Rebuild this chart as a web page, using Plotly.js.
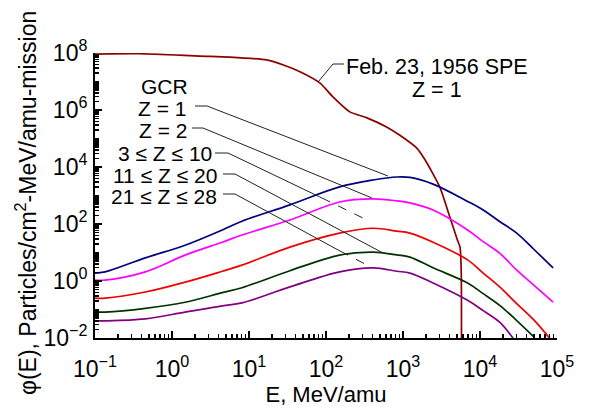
<!DOCTYPE html>
<html>
<head>
<meta charset="utf-8">
<script src="https://cdn.plot.ly/plotly-3.0.1.min.js"></script>
<style>html,body{margin:0;padding:0;background:#fff;}#chart{width:605px;height:407px;}</style>
</head>
<body>
<div id="chart"></div>
<script>
// ---- Data ----
// Feb. 23, 1956 SPE, Z = 1
const speE = [0.1, 0.38, 2.3, 5.6, 17, 28, 46, 83, 123, 204, 340, 620, 910, 1500, 1930, 3000, 4050, 5100, 5500, 5700, 5750];
const speF = [9.2e7, 9.4e7, 7.8e7, 7.2e7, 5.7e7, 3.8e7, 2.2e7, 8.9e6, 2.9e6, 8.6e5, 5.3e5, 2.5e5, 1.3e5, 4.7e4, 1.8e4, 2.0e3, 178, 27, 15.5, 2.4, 0.005];

// GCR energy grid (MeV/amu)
const gcrE = [0.1, 0.135, 0.45, 1.48, 4.5, 8.1, 34, 150, 410, 830, 1230, 2460, 6900, 11000, 18000, 30000, 50000, 89000];
const gcrZ1 = [1.9, 2.1, 6.5, 18, 62, 125, 470, 2000, 3500, 4450, 4300, 2500, 620, 310, 122, 48, 13, 2.9];
const gcrZ2 = [1.08, 1.08, 2.1, 8.1, 23, 41, 138, 590, 760, 650, 550, 310, 62, 24, 9.5, 2.4, 0.72, 0.18];
const gcrZ3to10 = [0.25, 0.25, 0.41, 0.91, 2.2, 3.6, 15.5, 48, 71, 56, 48, 23, 5.5, 1.9, 0.62, 0.16, 0.043, 0.007];
const gcrZ11to20 = [0.081, 0.081, 0.11, 0.18, 0.39, 0.58, 2.3, 8.1, 10.3, 8.2, 6.9, 2.9, 0.85, 0.36, 0.14, 0.041, 0.011, null];
const gcrZ21to28 = [0.040, 0.040, 0.047, 0.081, 0.135, 0.17, 0.62, 2.1, 2.9, 2.2, 1.9, 0.85, 0.21, 0.091, 0.036, 0.0065, null, null];

// Tick labels
const xTickVals = [0.1, 1, 10, 100, 1000, 10000, 100000];
const xTickText = ['10<sup>\u22121</sup>', '10<sup>0</sup>', '10<sup>1</sup>', '10<sup>2</sup>', '10<sup>3</sup>', '10<sup>4</sup>', '10<sup>5</sup>'];
const yTickVals = [1e-2, 1e0, 1e2, 1e4, 1e6, 1e8];
const yTickText = ['10<sup>\u22122</sup>', '10<sup>0</sup>', '10<sup>2</sup>', '10<sup>4</sup>', '10<sup>6</sup>', '10<sup>8</sup>'];

// Labels
const gcrLabels = ['GCR', 'Z = 1', 'Z = 2', '3 \u2264 Z \u2264 10', '11 \u2264 Z \u2264 20', '21 \u2264 Z \u2264 28'];
const speLabel = ['Feb. 23, 1956 SPE', 'Z = 1'];
const yTitle = '\u03c6(E), Particles/cm<sup>2</sup>-MeV/amu-mission';
const xTitle = 'E, MeV/amu';

// ---- Layout helpers (pixel -> paper) ----
const L = 95, R = 557, T = 53, B = 338;
const px = x => (x - L) / (R - L);
const py = y => (B - y) / (B - T);
const FONT = 'Liberation Sans, Arial, Helvetica, sans-serif';

function line(x0, y0, x1, y1, dash) {
  return {type: 'line', xref: 'paper', yref: 'paper', x0: px(x0), y0: py(y0), x1: px(x1), y1: py(y1),
          line: {color: '#222', width: 1, dash: dash || 'solid'}};
}

const traces = [
  {x: speE, y: speF, mode: 'lines', line: {color: '#8B0000', width: 1.7, shape: 'spline', smoothing: 0.6}},
  {x: gcrE, y: gcrZ1, mode: 'lines', line: {color: '#000080', width: 1.7, shape: 'spline', smoothing: 1}},
  {x: gcrE, y: gcrZ2, mode: 'lines', line: {color: '#FF00FF', width: 1.7, shape: 'spline', smoothing: 1}},
  {x: gcrE, y: gcrZ3to10, mode: 'lines', line: {color: '#EE0000', width: 1.7, shape: 'spline', smoothing: 1}},
  {x: gcrE, y: gcrZ11to20, mode: 'lines', line: {color: '#003300', width: 1.7, shape: 'spline', smoothing: 1}},
  {x: gcrE, y: gcrZ21to28, mode: 'lines', line: {color: '#800080', width: 1.7, shape: 'spline', smoothing: 1}}
].map(t => Object.assign(t, {showlegend: false, hoverinfo: 'skip', connectgaps: false}));

const labelPos = [[189, 86], [187, 108], [188, 130], [213, 153], [218, 175], [218, 196]];
const annotations = gcrLabels.map((t, i) => ({
  text: t, xref: 'paper', yref: 'paper', x: px(labelPos[i][0]), y: py(labelPos[i][1]),
  xanchor: 'right', yanchor: 'middle', showarrow: false, borderpad: 0,
  font: {family: FONT, size: 21, color: '#000'}
}));
annotations.push({text: speLabel[0], xref: 'paper', yref: 'paper', x: px(345), y: py(67), xanchor: 'left', yanchor: 'middle',
  showarrow: false, borderpad: 0, font: {family: FONT, size: 21.5, color: '#000'}});
annotations.push({text: speLabel[1], xref: 'paper', yref: 'paper', x: px(437), y: py(90), xanchor: 'center', yanchor: 'middle',
  showarrow: false, borderpad: 0, font: {family: FONT, size: 21.5, color: '#000'}});
annotations.push({text: yTitle, xref: 'paper', yref: 'paper', x: px(26), y: py(203), xanchor: 'center', yanchor: 'middle',
  textangle: -90, showarrow: false, borderpad: 0, font: {family: FONT, size: 23, color: '#000'}});

const shapes = [
  // Z = 1
  line(195, 106, 207, 106), line(207, 106, 388, 176),
  // Z = 2
  line(192, 128, 203, 128), line(203, 128, 372, 198),
  // 3 <= Z <= 10
  line(215, 153, 228, 153), line(228, 153, 322, 198), line(322, 198, 367, 220, 'dash'),
  // 11 <= Z <= 20
  line(223, 174, 235, 174), line(235, 174, 383, 253),
  // 21 <= Z <= 28
  line(223, 194, 235, 194), line(235, 194, 340, 251), line(340, 251, 367, 265, 'dash'),
  // SPE leader
  line(318, 82, 333, 64), line(333, 64, 344, 64)
];

const layout = {
  width: 605, height: 407,
  margin: {l: L, r: 605 - R, t: T, b: 407 - B},
  paper_bgcolor: '#fff', plot_bgcolor: '#fff',
  font: {family: FONT, color: '#000'},
  xaxis: {
    type: 'log', range: [-1, 5], showgrid: false, zeroline: false,
    showline: true, linecolor: '#000', linewidth: 2,
    tickmode: 'array', tickvals: xTickVals, ticktext: xTickText,
    ticks: 'inside', ticklen: 7, tickcolor: '#000', tickwidth: 1.5, ticklabelstandoff: 9,
    minor: {ticks: 'inside', ticklen: 4, tickcolor: '#000', dtick: 'D1', showgrid: false},
    tickfont: {family: FONT, size: 23, color: '#000'},
    title: {text: xTitle, font: {family: FONT, size: 22, color: '#000'}, standoff: 2}
  },
  yaxis: {
    type: 'log', range: [-2, 8], showgrid: false, zeroline: false,
    showline: true, linecolor: '#000', linewidth: 2,
    tickmode: 'array', tickvals: yTickVals, ticktext: yTickText,
    ticks: 'inside', ticklen: 7, tickcolor: '#000', tickwidth: 1.5, ticklabelstandoff: 1,
    minor: {ticks: 'inside', ticklen: 4, tickcolor: '#000', dtick: 'D1', showgrid: false},
    tickfont: {family: FONT, size: 23, color: '#000'}
  },
  annotations: annotations,
  shapes: shapes
};

Plotly.newPlot('chart', traces, layout, {staticPlot: true, displayModeBar: false});
</script>
</body>
</html>
